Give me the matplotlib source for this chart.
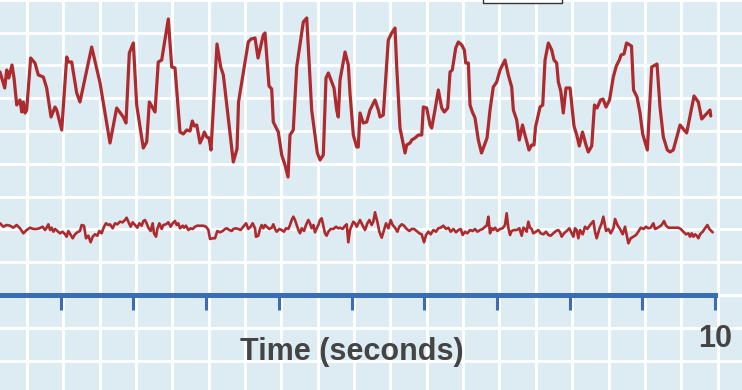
import numpy as np
import matplotlib.pyplot as plt
from matplotlib.patches import Rectangle

# upper trace: time (s) and amplitude (arbitrary units, axis line = 0)
t_upper = [0.165, 0.230, 0.257, 0.285, 0.330, 0.358, 0.395, 0.440, 0.464, 0.486,
           0.509, 0.532, 0.587, 0.646, 0.692, 0.761, 0.807, 0.867, 0.922, 0.945,
           1.014, 1.083, 1.105, 1.151, 1.220, 1.265, 1.426, 1.541, 1.678, 1.770,
           1.861, 1.898, 1.944, 1.999, 2.045, 2.136, 2.183, 2.219, 2.297, 2.342,
           2.389, 2.480, 2.527, 2.572, 2.641, 2.686, 2.733, 2.779, 2.810, 2.838,
           2.871, 2.916, 2.948, 2.975, 3.008, 3.040, 3.067, 3.150, 3.201, 3.237,
           3.374, 3.425, 3.446, 3.535, 3.580, 3.618, 3.673, 3.714, 3.787, 3.810,
           3.865, 3.902, 3.924, 3.993, 4.040, 4.085, 4.127, 4.154, 4.199, 4.246,
           4.337, 4.384, 4.452, 4.530, 4.567, 4.612, 4.649, 4.681, 4.759, 4.796,
           4.818, 4.842, 4.911, 4.956, 4.979, 5.025, 5.071, 5.093, 5.117, 5.162,
           5.209, 5.254, 5.323, 5.369, 5.392, 5.437, 5.506, 5.553, 5.598, 5.622,
           5.667, 5.736, 5.759, 5.805, 5.828, 5.873, 5.919, 5.966, 5.988, 6.034,
           6.080, 6.103, 6.148, 6.194, 6.241, 6.276, 6.323, 6.355, 6.386, 6.433,
           6.469, 6.516, 6.552, 6.571, 6.607, 6.630, 6.662, 6.699, 6.744, 6.788,
           6.864, 6.905, 6.950, 6.997, 7.043, 7.111, 7.157, 7.203, 7.226, 7.272,
           7.308, 7.352, 7.386, 7.441, 7.478, 7.510, 7.531, 7.593, 7.630, 7.662,
           7.707, 7.754, 7.785, 7.822, 7.845, 7.878, 7.913, 7.950, 8.006, 8.060,
           8.098, 8.133, 8.177, 8.225, 8.257, 8.304, 8.342, 8.377, 8.425, 8.459,
           8.501, 8.549, 8.601, 8.642, 8.684, 8.707, 8.748, 8.783, 8.851, 8.879,
           8.927, 8.968, 9.005, 9.069, 9.129, 9.202, 9.243, 9.289, 9.344, 9.381,
           9.426, 9.519, 9.610, 9.711, 9.770, 9.817, 9.931, 9.941]
v_upper = [22.3, 20.7, 22.5, 21.7, 23.0, 21.7, 19.0, 19.5, 18.3, 19.3,
           18.2, 18.5, 23.7, 23.2, 22.0, 21.8, 20.7, 17.8, 18.8, 18.5,
           16.5, 23.8, 23.3, 23.3, 20.2, 19.3, 24.8, 21.2, 15.2, 18.7,
           17.8, 17.2, 24.2, 25.2, 19.0, 14.7, 15.3, 19.3, 18.3, 23.3,
           23.5, 27.6, 22.8, 22.7, 16.3, 16.1, 16.5, 16.4, 17.4, 16.9,
           17.0, 15.2, 15.7, 16.3, 15.8, 15.7, 14.5, 25.1, 22.8, 22.0,
           13.3, 14.6, 19.3, 23.3, 25.3, 25.6, 25.7, 23.7, 26.0, 26.2,
           20.9, 20.6, 17.3, 16.3, 14.0, 13.0, 11.8, 16.0, 16.5, 22.8,
           27.3, 27.7, 18.5, 14.2, 13.5, 14.0, 21.7, 22.2, 20.7, 18.5,
           17.8, 21.5, 24.3, 23.0, 20.2, 16.0, 14.8, 14.8, 18.2, 17.2,
           17.3, 18.5, 19.5, 18.5, 17.8, 18.0, 25.5, 26.2, 26.7, 22.8,
           16.7, 14.2, 15.0, 15.2, 15.5, 15.7, 16.0, 16.0, 18.8, 18.7,
           17.0, 16.7, 18.5, 20.5, 18.7, 18.3, 18.7, 22.3, 22.5, 24.7,
           25.3, 25.0, 24.5, 23.2, 23.2, 19.0, 18.3, 17.7, 15.5, 14.2,
           15.7, 18.5, 20.8, 21.3, 22.5, 23.5, 22.0, 20.8, 18.5, 17.5,
           15.5, 17.0, 16.0, 14.5, 15.0, 15.0, 16.8, 18.8, 19.0, 23.5,
           25.2, 24.5, 23.5, 23.2, 21.3, 20.4, 18.2, 20.7, 20.7, 16.9,
           16.0, 14.9, 16.3, 15.0, 14.3, 14.9, 19.0, 18.7, 19.5, 19.6,
           18.8, 19.5, 21.8, 22.9, 23.5, 24.0, 24.1, 25.2, 24.9, 20.5,
           19.8, 18.2, 16.1, 14.5, 22.8, 23.1, 18.8, 15.8, 14.5, 14.3,
           14.5, 17.0, 16.2, 19.9, 19.3, 17.6, 18.5, 17.9]

# lower trace
t_lower = [0.165, 0.211, 0.257, 0.303, 0.348, 0.394, 0.440, 0.486, 0.532, 0.578,
           0.624, 0.669, 0.706, 0.752, 0.784, 0.807, 0.830, 0.853, 0.876, 0.899,
           0.922, 0.954, 0.990, 1.027, 1.059, 1.082, 1.105, 1.137, 1.165, 1.197,
           1.229, 1.265, 1.288, 1.320, 1.348, 1.380, 1.412, 1.440, 1.472, 1.504,
           1.531, 1.563, 1.596, 1.623, 1.655, 1.678, 1.715, 1.747, 1.779, 1.816,
           1.852, 1.884, 1.907, 1.930, 1.962, 1.990, 2.022, 2.054, 2.082, 2.114,
           2.137, 2.159, 2.182, 2.205, 2.237, 2.265, 2.283, 2.311, 2.329, 2.357,
           2.389, 2.412, 2.448, 2.480, 2.512, 2.540, 2.572, 2.595, 2.618, 2.641,
           2.678, 2.696, 2.723, 2.756, 2.788, 2.815, 2.847, 2.879, 2.916, 2.962,
           2.999, 3.031, 3.054, 3.090, 3.122, 3.154, 3.191, 3.228, 3.260, 3.283,
           3.319, 3.352, 3.375, 3.411, 3.443, 3.475, 3.512, 3.549, 3.581, 3.613,
           3.640, 3.673, 3.686, 3.718, 3.741, 3.764, 3.787, 3.810, 3.833, 3.870,
           3.902, 3.925, 3.948, 3.971, 4.007, 4.039, 4.071, 4.099, 4.131, 4.154,
           4.177, 4.200, 4.223, 4.246, 4.269, 4.292, 4.314, 4.347, 4.374, 4.406,
           4.429, 4.452, 4.475, 4.498, 4.521, 4.544, 4.567, 4.590, 4.612, 4.635,
           4.658, 4.681, 4.713, 4.750, 4.787, 4.819, 4.842, 4.878, 4.911, 4.934,
           4.956, 4.979, 5.002, 5.025, 5.048, 5.071,
           5.117, 5.154, 5.186, 5.218, 5.245, 5.277, 5.300, 5.323, 5.355, 5.383,
           5.415, 5.447, 5.475, 5.507, 5.539, 5.566, 5.598, 5.631, 5.658, 5.690,
           5.722, 5.759, 5.796, 5.828, 5.860, 5.896, 5.933, 5.965, 5.997, 6.025,
           6.057, 6.089, 6.126, 6.162, 6.194, 6.227, 6.263, 6.300, 6.332, 6.364,
           6.401, 6.437, 6.470, 6.502, 6.529, 6.561, 6.593, 6.630, 6.667, 6.699,
           6.731, 6.768, 6.804, 6.836, 6.859, 6.882, 6.905, 6.928, 6.951, 6.974,
           7.006, 7.043, 7.079, 7.111, 7.134, 7.157, 7.180, 7.203, 7.235, 7.272,
           7.309, 7.341, 7.364, 7.387, 7.410, 7.432, 7.455, 7.478, 7.501, 7.538,
           7.570, 7.602, 7.639, 7.675, 7.708, 7.740, 7.776, 7.813, 7.845, 7.868,
           7.891, 7.923, 7.960, 7.996, 8.028, 8.051, 8.074, 8.097, 8.120, 8.143,
           8.180, 8.212, 8.244, 8.281, 8.327, 8.349, 8.372, 8.409, 8.441, 8.464,
           8.501, 8.533, 8.565, 8.602, 8.625, 8.657, 8.693, 8.730, 8.762, 8.808,
           8.840, 8.877, 8.913, 8.945, 8.978, 9.014, 9.051, 9.083, 9.115, 9.152,
           9.175, 9.198, 9.234, 9.266, 9.298, 9.326, 9.358, 9.404, 9.450, 9.496,
           9.528, 9.564, 9.601, 9.633, 9.656, 9.679, 9.702, 9.725, 9.748, 9.771,
           9.794, 9.830, 9.863, 9.895, 9.922, 9.968]
v_lower = [7.17, 6.83, 7.00, 6.93, 6.73, 7.00, 6.67, 6.17, 6.50, 6.73,
           6.60, 6.60, 6.67, 6.83, 6.50, 6.73, 7.07, 6.50, 6.73, 6.33,
           6.60, 6.40, 6.17, 6.33, 6.07, 5.83, 6.40, 6.00, 5.67, 6.07,
           6.27, 6.40, 7.00, 6.93, 5.67, 5.93, 5.27, 5.83, 6.07, 5.93,
           6.40, 6.17, 6.83, 7.17, 7.00, 7.07, 6.67, 7.17, 7.07, 7.33,
           7.27, 7.50, 7.73, 7.33, 6.83, 7.27, 7.00, 6.73, 7.17, 6.93,
           7.40, 7.50, 7.17, 6.73, 6.40, 7.17, 6.17, 5.83, 6.60, 7.17,
           6.60, 7.00, 7.07, 7.27, 6.83, 7.17, 7.40, 7.00, 7.17, 6.67,
           6.93, 6.73, 6.93, 6.50, 6.67, 6.60, 6.83, 6.93, 6.93, 6.93,
           6.83, 6.50, 5.60, 5.67, 5.67, 6.40, 6.27, 6.40, 6.60, 6.67,
           6.50, 6.40, 6.60, 6.67, 6.60, 6.50, 6.83, 7.17, 6.60, 6.83,
           7.17, 6.67, 5.83, 5.93, 6.60, 7.00, 6.67, 7.00, 6.83, 6.60,
           6.73, 7.07, 6.60, 6.33, 6.60, 6.50, 6.33, 6.67, 6.60, 7.00,
           7.50, 7.83, 7.50, 7.00, 6.50, 6.17, 6.67, 6.40, 7.00, 7.50,
           7.17, 6.67, 7.00, 6.27, 6.67, 7.00, 7.50, 7.67, 6.93, 6.17,
           5.93, 6.33, 6.60, 6.60, 6.83, 6.67, 6.73, 6.60, 6.93, 7.07,
           5.27, 6.50, 6.93, 7.33, 7.17, 6.83,
           7.50, 6.93, 6.50, 7.17, 7.50, 7.00, 7.33, 8.27, 7.33, 6.33,
           5.73, 6.50, 7.17, 6.67, 7.50, 7.00, 6.73, 6.33, 6.83, 7.07,
           6.93, 6.60, 6.40, 6.60, 6.60, 6.40, 6.17, 6.07, 5.27, 6.00,
           6.33, 6.07, 6.50, 6.33, 6.67, 6.73, 6.93, 6.60, 6.73, 6.33,
           6.60, 6.27, 6.50, 6.60, 6.00, 6.33, 6.17, 6.50, 6.40, 6.60,
           6.33, 6.50, 6.60, 6.83, 6.93, 7.83, 6.17, 6.67, 6.50, 6.73,
           6.40, 6.60, 6.67, 7.00, 8.17, 6.73, 6.00, 6.40, 6.50, 6.50,
           6.67, 5.93, 6.73, 6.60, 6.33, 7.33, 6.73, 6.60, 6.17, 6.33,
           6.50, 6.17, 6.07, 6.33, 6.00, 5.93, 6.17, 6.40, 6.50, 6.27,
           5.83, 6.17, 6.40, 6.67, 6.17, 5.83, 6.67, 6.50, 5.67, 6.50,
           6.07, 6.83, 6.60, 7.00, 7.40, 6.33, 5.67, 6.60, 7.17, 7.83,
           6.40, 6.60, 6.17, 6.67, 7.60, 7.00, 6.60, 6.07, 6.83, 5.17,
           5.67, 5.83, 6.00, 6.33, 6.73, 6.60, 6.83, 6.67, 6.73, 7.17,
           6.60, 6.67, 6.83, 7.00, 7.40, 6.93, 6.73, 6.73, 6.73, 6.73,
           6.60, 6.33, 6.07, 6.17, 5.83, 6.17, 5.83, 6.07, 5.93, 5.67,
           6.07, 6.33, 6.67, 7.00, 6.60, 6.27]

time_ticks = list(range(1, 11))
tick_labels = [''] * 9 + ['10']

bg = '#dcecf2'
red = '#ad2a2e'
blue = '#3b6db5'
grey = '#444444'

fig = plt.figure(figsize=(7.42, 3.9), dpi=100)
ax = fig.add_axes([0, 0, 1, 1])
ax.set_facecolor(bg)
ax.set_xlim(0.165, 10.371)
ax.set_ylim(-9.5, 29.5)

# white paper grid
for gx in np.arange(0.535, 10.4, 0.5):
    ax.axvline(gx, color='white', lw=2.1, zorder=1)
for gy in np.arange(-3, 10) * 3.28:
    ax.axhline(gy, color='white', lw=2.1, zorder=1)

ax.plot(t_upper, v_upper, color=red, lw=2.3, zorder=3,
        solid_joinstyle='round', solid_capstyle='round')
ax.plot(t_lower, v_lower, color=red, lw=1.9, zorder=3,
        solid_joinstyle='round', solid_capstyle='round')

# blue time axis
for side in ['top', 'left', 'right']:
    ax.spines[side].set_visible(False)
ax.spines['bottom'].set_position(('data', 0))
ax.spines['bottom'].set_bounds(0.165, 10)
ax.spines['bottom'].set_color(blue)
ax.spines['bottom'].set_linewidth(3.6)
ax.spines['bottom'].set_zorder(4)
ax.set_yticks([])
ax.set_xticks(time_ticks)
ax.set_xticklabels(tick_labels, fontweight='bold', fontfamily='Liberation Sans')
ax.tick_params(axis='x', direction='out', length=11, width=2.2, color=blue,
               labelsize=22, labelcolor=grey, pad=10)

ax.text(5.0, -6.5, 'Time (seconds)', ha='center', va='baseline', fontsize=22,
        fontweight='bold', color=grey, family='Liberation Sans')

# edge of a box cut off at the top
ax.add_patch(Rectangle((0.651, 0.992), 0.1065, 0.05, transform=ax.transAxes,
                       facecolor='white', edgecolor='#333333', lw=1, zorder=5))

fig.savefig('out.png', dpi=100)
